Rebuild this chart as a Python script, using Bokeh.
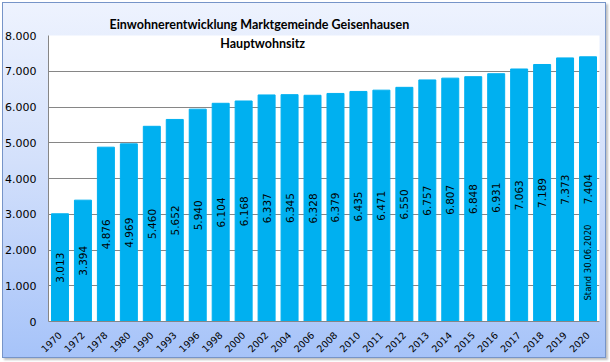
from math import pi
from bokeh.plotting import figure
from bokeh.models import FactorRange, Range1d, FixedTicker, Label, ColumnDataSource, Title
from bokeh.core.properties import value
from bokeh.embed import file_html
from bokeh.resources import INLINE

years = ["1970", "1972", "1978", "1980", "1990", "1993", "1996", "1998", "2000", "2002",
         "2004", "2006", "2008", "2010", "2011", "2012", "2013", "2014", "2015", "2016",
         "2017", "2018", "2019", "2020"]
population = [3013, 3394, 4876, 4969, 5460, 5652, 5940, 6104, 6168, 6337,
              6345, 6328, 6379, 6435, 6471, 6550, 6757, 6807, 6848, 6931,
              7063, 7189, 7373, 7404]
y_ticks = [0, 1000, 2000, 3000, 4000, 5000, 6000, 7000, 8000]
y_tick_labels = ["0", "1.000", "2.000", "3.000", "4.000", "5.000", "6.000", "7.000", "8.000"]
title_text = "Einwohnerentwicklung Marktgemeinde Geisenhausen"
subtitle_text = "Hauptwohnsitz"
note_text = "Stand 30.06.2020"

labels = [f"{v:,}".replace(",", ".") for v in population]
src = ColumnDataSource(dict(x=years, top=population, mid=[v / 2 for v in population], lab=labels))

p = figure(x_range=FactorRange(factors=years), y_range=Range1d(0, 8000),
           width=604, height=356, output_backend="svg", toolbar_location=None,
           margin=(2, 0, 0, 2), title=None)
p.styles = {"background": "linear-gradient(to bottom, #eef3fe 0%, #d3e0fb 45%, #a6c3f9 100%)",
            "box-shadow": "inset 0 0 0 1px #7694c8, 2px 2px 2px #c0c0c0"}
p.border_fill_color = None
p.background_fill_color = "white"
p.outline_line_color = None
p.min_border_left = 44
p.min_border_right = 7
p.min_border_top = 33
p.min_border_bottom = 37

p.add_layout(Title(text=title_text, align="left", offset=61, standoff=8,
                   text_font="Lato", text_font_style="bold", text_font_size="12.5px",
                   text_color="black"), "above")

p.vbar(x="x", top="top", width=0.74, color="#00B0F0", source=src)
p.text(x="x", y="mid", text="lab", angle=pi / 2, text_align="center", text_baseline="middle",
       text_font=value("DejaVu Sans"), text_font_size="10.5px", text_color="black", source=src)

p.add_layout(Label(x=23.5, y=1650, text=note_text, angle=pi / 2, text_align="center",
                   text_baseline="middle", text_font="DejaVu Sans", text_font_size="8.5px",
                   text_color="black"))
p.add_layout(Label(x=9.33, y=7776, text=subtitle_text, text_align="center", text_baseline="middle",
                   text_font="Lato", text_font_style="bold", text_font_size="12.5px",
                   text_color="black"))

p.xgrid.grid_line_color = None
p.ygrid.grid_line_color = "#868686"
p.ygrid.ticker = FixedTicker(ticks=y_ticks)

p.yaxis.ticker = FixedTicker(ticks=y_ticks)
p.yaxis.major_label_overrides = {t: l for t, l in zip(y_ticks, y_tick_labels)}
for ax in (p.xaxis[0], p.yaxis[0]):
    ax.axis_line_color = "#868686"
    ax.major_tick_line_color = None
    ax.minor_tick_line_color = None
    ax.major_tick_out = 0
    ax.major_tick_in = 0
    ax.major_label_text_font = "DejaVu Sans"
    ax.major_label_text_color = "black"
p.yaxis.major_label_text_font_size = "11px"
p.yaxis.major_label_standoff = 12
p.xaxis.major_label_text_font_size = "9.5px"
p.xaxis.major_label_orientation = pi / 4
p.xaxis.major_label_standoff = 12

open("out.html", "w").write(file_html(p, INLINE))
